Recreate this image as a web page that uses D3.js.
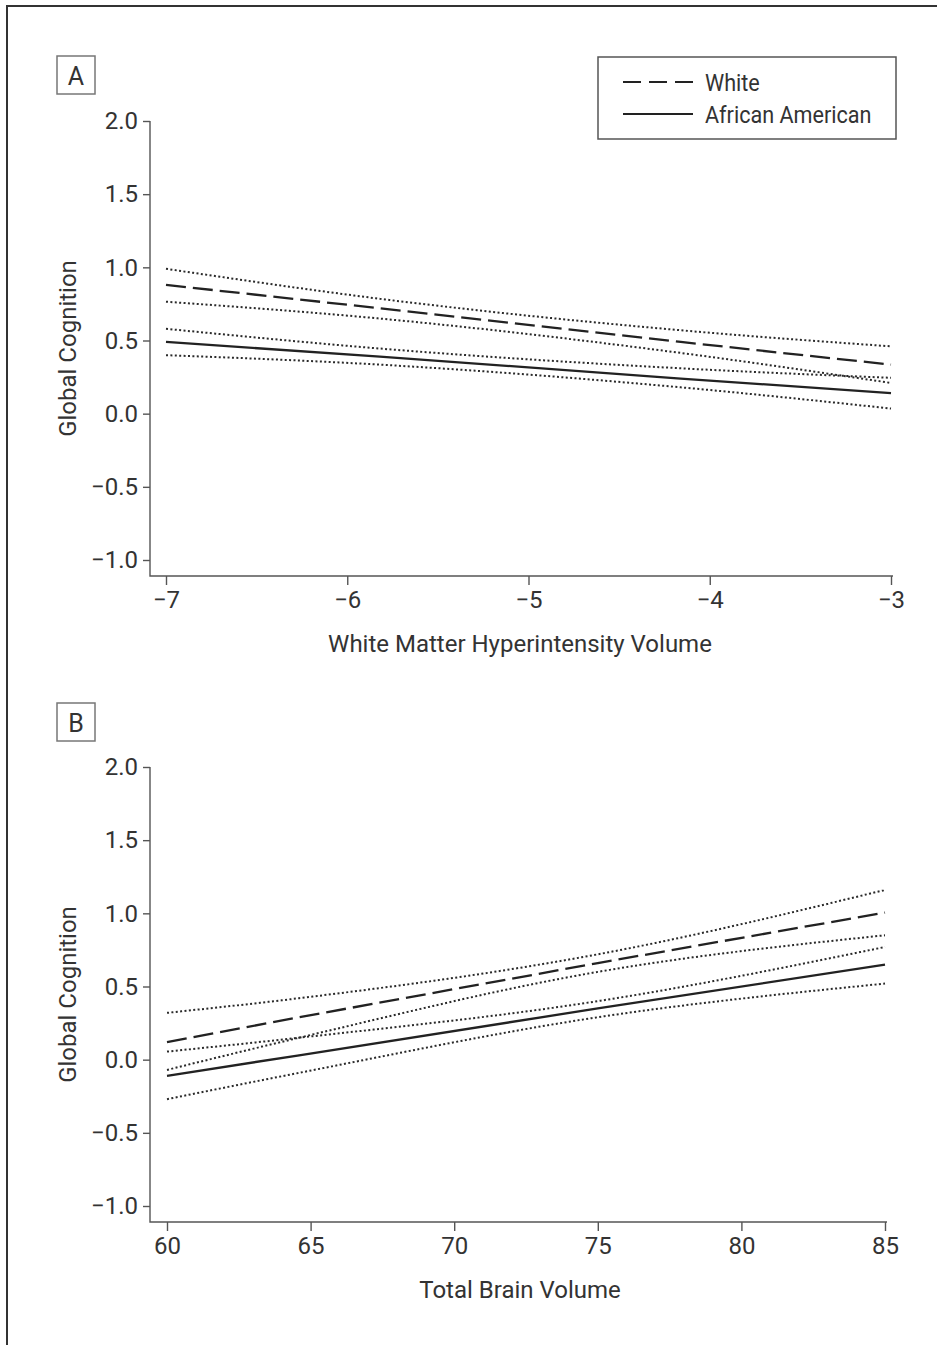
<!DOCTYPE html>
<html>
<head>
<meta charset="utf-8">
<script src="https://cdn.jsdelivr.net/npm/d3@7"></script>
<style>
  body { margin: 0; background: #fff; }
  text { font-family: Roboto, "Liberation Sans", sans-serif; fill: #333; }
</style>
</head>
<body>
<script>
// shared
const yTicks = [-1.0, -0.5, 0.0, 0.5, 1.0, 1.5, 2.0]
const seriesNames = ["White", "African American"]

// panel A: white matter hyperintensity volume
const aTicks = [-7, -6, -5, -4, -3]
const aX = [-7, -5.82, -4.16, -3]
const aWhiteMean = [0.88, 0.72, 0.49, 0.335]
const aWhiteUpper = [0.99, 0.785, 0.57, 0.46]
const aWhiteLower = [0.765, 0.65, 0.415, 0.21]
const aBlackMean = [0.49, 0.39, 0.24, 0.14]
const aBlackUpper = [0.58, 0.445, 0.31, 0.245]
const aBlackLower = [0.40, 0.335, 0.18, 0.035]

// panel B: total brain volume
const bTicks = [60, 65, 70, 75, 80, 85]
const bX = [60, 64.6, 75, 85]
const bWhiteMean = [0.12, 0.29, 0.66, 1.005]
const bWhiteUpper = [0.32, 0.42, 0.72, 1.16]
const bWhiteLower = [-0.07, 0.15, 0.60, 0.85]
const bBlackMean = [-0.11, 0.03, 0.35, 0.65]
const bBlackUpper = [0.055, 0.15, 0.40, 0.77]
const bBlackLower = [-0.27, -0.09, 0.29, 0.52]

const svg = d3.select("body").append("svg")
  .attr("width", 937).attr("height", 1345)

// outer frame (only top and left are inside the picture)
svg.append("path")
  .attr("d", "M7,1345 V6 H937")
  .attr("fill", "none").attr("stroke", "#333").attr("stroke-width", 2)

function panel(o) {
  const x = d3.scaleLinear().domain(o.xDomain).range(o.xRange)
  const y = d3.scaleLinear().domain([-1, 2]).range(o.yRange)
  const g = svg.append("g")

  // y axis
  const ya = g.append("g").attr("transform", `translate(${o.axisX},0)`)
    .call(d3.axisLeft(y).tickValues(yTicks).tickSize(7).tickPadding(5).tickFormat(d3.format(".1f")))
  ya.select(".domain").remove()
  ya.selectAll("line").attr("stroke", "#555").attr("stroke-width", 1.4)
  ya.selectAll("text").attr("font-size", 24).attr("fill", "#333")
    .style("font-family", "Roboto, sans-serif")

  // x axis
  const xa = g.append("g").attr("transform", `translate(0,${o.axisY})`)
    .call(d3.axisBottom(x).tickValues(o.ticks).tickSize(9).tickPadding(6).tickFormat(d3.format("d")))
  xa.select(".domain").remove()
  xa.selectAll("line").attr("stroke", "#555").attr("stroke-width", 1.4)
  xa.selectAll("text").attr("font-size", 24).attr("fill", "#333")
    .style("font-family", "Roboto, sans-serif")

  // axis lines
  g.append("path")
    .attr("d", `M${o.axisX},${y(2)} V${o.axisY} H${x(o.xDomain[1]) + 2}`)
    .attr("fill", "none").attr("stroke", "#555").attr("stroke-width", 1.4)

  // titles
  g.append("text")
    .attr("transform", `translate(76,${(y(2) + o.axisY) / 2}) rotate(-90)`)
    .attr("text-anchor", "middle").attr("font-size", 24)
    .text("Global Cognition")
  g.append("text")
    .attr("x", 520).attr("y", o.axisY + 76)
    .attr("text-anchor", "middle").attr("font-size", 24)
    .text(o.xTitle)

  // panel letter
  g.append("rect")
    .attr("x", 57).attr("y", o.letterY).attr("width", 38).attr("height", 38)
    .attr("fill", "none").attr("stroke", "#777").attr("stroke-width", 1.5)
  g.append("text")
    .attr("x", 76).attr("y", o.letterY + 29)
    .attr("text-anchor", "middle").attr("font-size", 25)
    .text(o.letter)

  const line = d3.line().x(d => x(d[0])).y(d => y(d[1]))
  const bandLine = d3.line().x(d => x(d[0])).y(d => y(d[1])).curve(d3.curveMonotoneX)
  const pts = vals => o.xs.map((v, i) => [v, vals[i]])

  // confidence bands
  o.bands.forEach(b => {
    g.append("path").attr("d", bandLine(pts(b)))
      .attr("fill", "none").attr("stroke", "#2a2a2a").attr("stroke-width", 2)
      .attr("stroke-dasharray", "2,2.4")
  })
  // fitted lines
  g.append("path").attr("d", line(pts(o.white)))
    .attr("fill", "none").attr("stroke", "#222").attr("stroke-width", 2.3)
    .attr("stroke-dasharray", "20,7")
  g.append("path").attr("d", line(pts(o.black)))
    .attr("fill", "none").attr("stroke", "#222").attr("stroke-width", 2.3)
}

panel({
  xDomain: [-7, -3], xRange: [166, 891], yRange: [560, 121],
  axisX: 150, axisY: 576, ticks: aTicks, xs: aX, letter: "A", letterY: 56,
  xTitle: "White Matter Hyperintensity Volume",
  white: aWhiteMean, black: aBlackMean,
  bands: [aWhiteUpper, aWhiteLower, aBlackUpper, aBlackLower]
})

panel({
  xDomain: [60, 85], xRange: [167, 885], yRange: [1206, 767],
  axisX: 150, axisY: 1222, ticks: bTicks, xs: bX, letter: "B", letterY: 703,
  xTitle: "Total Brain Volume",
  white: bWhiteMean, black: bBlackMean,
  bands: [bWhiteUpper, bWhiteLower, bBlackUpper, bBlackLower]
})

// legend
const legend = svg.append("g")
legend.append("rect")
  .attr("x", 598).attr("y", 57).attr("width", 298).attr("height", 82)
  .attr("fill", "#fff").attr("stroke", "#555").attr("stroke-width", 1.5)
seriesNames.forEach((name, i) => {
  const ly = 82 + i * 32
  legend.append("line")
    .attr("x1", 623).attr("x2", 693).attr("y1", ly).attr("y2", ly)
    .attr("stroke", "#222").attr("stroke-width", 2)
    .attr("stroke-dasharray", i === 0 ? "18,8" : null)
  legend.append("text")
    .attr("transform", `translate(705,${ly + 9}) scale(0.9,1)`)
    .attr("font-size", 24)
    .text(name)
})
</script>
</body>
</html>
